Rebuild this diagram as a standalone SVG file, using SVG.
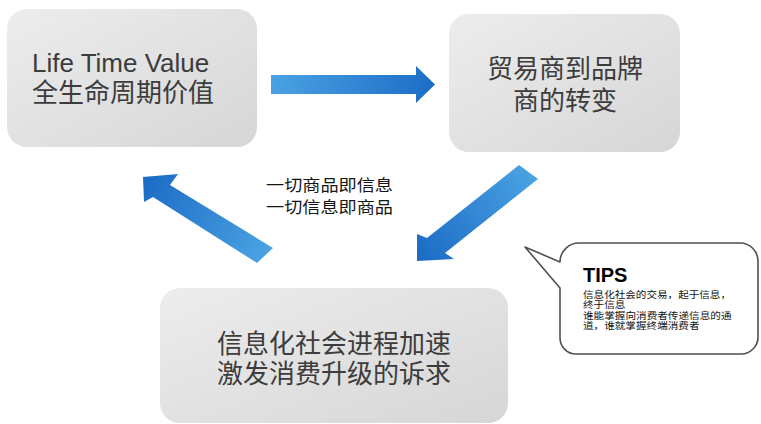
<svg xmlns="http://www.w3.org/2000/svg" width="761" height="424" viewBox="0 0 761 424">
  <defs>
    <linearGradient id="boxFill" x1="0" y1="0" x2="1" y2="1">
      <stop offset="0" stop-color="#ededed"/>
      <stop offset="1" stop-color="#d6d6d6"/>
    </linearGradient>
    <linearGradient id="arrRight" gradientUnits="userSpaceOnUse" x1="271" y1="0" x2="435" y2="0">
      <stop offset="0" stop-color="#4aa2e2"/>
      <stop offset="1" stop-color="#1c6cc6"/>
    </linearGradient>
    <linearGradient id="arrDown" gradientUnits="userSpaceOnUse" x1="530" y1="170" x2="420" y2="258">
      <stop offset="0" stop-color="#4aa2e2"/>
      <stop offset="1" stop-color="#1c6cc6"/>
    </linearGradient>
    <linearGradient id="arrUp" gradientUnits="userSpaceOnUse" x1="266" y1="256" x2="146" y2="180">
      <stop offset="0" stop-color="#4aa2e2"/>
      <stop offset="1" stop-color="#1c6cc6"/>
    </linearGradient>
  </defs>
  <style>
    .box { fill: url(#boxFill); }
    .big { font-family: "Liberation Sans", "Noto Sans CJK SC", sans-serif; font-size: 26px; fill: #3c3c3c; }
    .mid { font-family: "Noto Sans CJK SC", "Liberation Sans", sans-serif; font-size: 16px; fill: #161616; }
    .tipsT { font-family: "Liberation Sans", Arial, sans-serif; font-size: 20px; font-weight: bold; fill: #000; }
    .tips { font-family: "Liberation Sans", "Noto Sans CJK SC", sans-serif; font-size: 9.5px; fill: #111; }
    .callout { fill: #fff; stroke: #505050; stroke-width: 1.6; stroke-linejoin: round; }
  </style>

  <g id="connectors">
    <polygon fill="url(#arrRight)" points="271,75 416,75 416,66 435,84.5 416,103 416,94 271,94"/>
    <polygon fill="url(#arrDown)" points="519,165 427,238 417,234 417,261 454,259 445,253 538,179"/>
    <polygon fill="url(#arrUp)" points="143,177 178,174 170,185 273,248 257,263 153,197 144,202"/>
  </g>

  <g id="node-ltv">
    <rect class="box" x="7" y="9" width="250" height="138" rx="20" ry="20"/>
    <text class="big" x="32" y="72">Life Time Value</text>
    <text class="big" x="32" y="102">全生命周期价值</text>
  </g>

  <g id="node-brand">
    <rect class="box" x="449" y="14" width="231" height="138" rx="20" ry="20"/>
    <text class="big" x="565" y="78" text-anchor="middle">贸易商到品牌</text>
    <text class="big" x="565" y="110" text-anchor="middle">商的转变</text>
  </g>

  <g id="node-info">
    <rect class="box" x="160" y="288" width="348" height="135" rx="20" ry="20"/>
    <text class="big" x="334" y="353" text-anchor="middle">信息化社会进程加速</text>
    <text class="big" x="334" y="383" text-anchor="middle">激发消费升级的诉求</text>
  </g>

  <g id="label-center">
    <text class="mid" x="266" y="191" textLength="127" lengthAdjust="spacingAndGlyphs">一切商品即信息</text>
    <text class="mid" x="266" y="213" textLength="127" lengthAdjust="spacingAndGlyphs">一切信息即商品</text>
  </g>

  <g id="node-tips">
    <path class="callout" d="M525,247 L560,262 A19,19 0 0 1 579,243 L740,243 A18,18 0 0 1 758,261 L758,337 A17,17 0 0 1 741,354 L576,354 A16,16 0 0 1 560,338 L560,288 Z"/>
    <text class="tipsT" x="583" y="282">TIPS</text>
    <text class="tips" x="583" y="297.5" textLength="148" lengthAdjust="spacingAndGlyphs">信息化社会的交易，起于信息，</text>
    <text class="tips" x="583" y="307.8" textLength="42.4" lengthAdjust="spacingAndGlyphs">终于信息</text>
    <text class="tips" x="583" y="318.6" textLength="148.5" lengthAdjust="spacingAndGlyphs">谁能掌握向消费者传递信息的通</text>
    <text class="tips" x="583" y="329.2" textLength="116.5" lengthAdjust="spacingAndGlyphs">道，谁就掌握终端消费者</text>
  </g>
</svg>
